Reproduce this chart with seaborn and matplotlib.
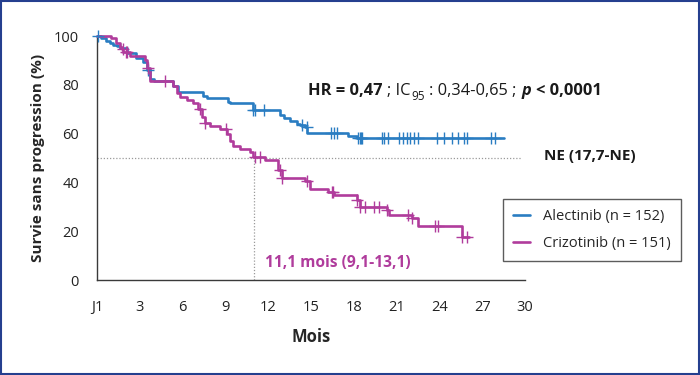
import numpy as np
import pandas as pd
import matplotlib
matplotlib.use("Agg")
import matplotlib.pyplot as plt
import seaborn as sns
from matplotlib.patches import Rectangle

# Kaplan-Meier steps: time of each drop (months) and survival after it (%)
alec_t = [0, 0.3, 0.6, 0.9, 1.1, 1.4, 1.6, 2.1, 2.7, 3.25, 3.5, 3.7, 4.0, 5.35, 5.7,
          7.4, 7.7, 9.15, 9.3, 10.9, 12.8, 13.1, 13.5, 14.0, 14.2, 14.6, 14.75, 17.6, 18.2, 28.5]
alec_s = [100, 99, 98, 97, 96.5, 96, 95, 93, 91, 89.5, 86, 82.5, 81.5, 79.5, 77.2,
          75.5, 74.5, 73, 72.4, 69.8, 67.6, 66.3, 65, 63.8, 63.5, 62.8, 60.2, 59, 58.3, 58.3]
alec_cens = [0.1, 3.6, 10.9, 11.1, 11.7, 14.4, 14.7, 16.4, 16.6, 16.8, 18.3, 18.4, 18.5, 18.6,
             20.0, 20.1, 20.4, 21.2, 21.45, 21.7, 21.95, 22.2, 22.5, 23.8, 24.3, 24.85, 25.3,
             25.7, 25.9, 27.65, 27.9]

criz_t = [0, 1.0, 1.3, 1.6, 1.75, 1.85, 2.3, 3.35, 3.5, 3.7, 5.35, 5.6, 5.8, 6.3, 6.75, 7.1,
          7.33, 7.57, 7.9, 8.6, 9.1, 9.3, 9.5, 10.0, 10.7, 10.96, 11.8, 12.7, 12.94, 14.6, 14.9,
          16.2, 16.6, 18.2, 18.4, 20.3, 20.5, 22.05, 22.5, 25.55, 26.1]
criz_s = [100, 99, 97, 95.5, 94.5, 93.5, 92, 90, 87, 81.5, 79.5, 76.5, 75, 73.8, 72.4, 70,
          67, 64.5, 63, 62, 60, 57, 55, 53.6, 52.6, 50.5, 49, 45, 42, 40.5, 37.5,
          36.2, 34.8, 32.8, 30, 28.8, 26.6, 25.3, 22, 17.5, 17.5]
criz_cens = [1.8, 2.0, 2.1, 3.6, 4.8, 7.2, 7.6, 9.05, 11.07, 11.4, 12.8, 13.0, 14.7, 16.45,
             16.55, 18.25, 18.45, 18.8, 19.4, 19.8, 20.35, 21.8, 22.1, 23.7, 23.9, 25.6, 25.9]

x_ticks = [0, 3, 6, 9, 12, 15, 18, 21, 24, 27, 30]
x_labels = ["J1", "3", "6", "9", "12", "15", "18", "21", "24", "27", "30"]
y_ticks = [0, 20, 40, 60, 80, 100]

BLUE = "#2a7dc2"
MAGENTA = "#b03c9c"
AXIS = "#3a3a3a"

sns.set_style("white")
plt.rcParams["font.family"] = ["Open Sans", "DejaVu Sans"]

fig = plt.figure(figsize=(7, 3.75), dpi=100)
ax = fig.add_axes([97 / 700, 95 / 375, 428 / 700, 244 / 375])


def step_at(t, s, x):
    idx = np.searchsorted(t, x, side="right") - 1
    return np.asarray(s)[idx]


groups = [(alec_t, alec_s, alec_cens, BLUE, "Alectinib (n = 152)"),
          (criz_t, criz_s, criz_cens, MAGENTA, "Crizotinib (n = 151)")]
for t, s, cens, col, lab in groups:
    df = pd.DataFrame({"mois": t, "survie": s})
    sns.lineplot(data=df, x="mois", y="survie", drawstyle="steps-post", color=col,
                 lw=1.9, label=lab, ax=ax, clip_on=False, zorder=3)
    cdf = pd.DataFrame({"mois": cens, "survie": step_at(t, s, cens)})
    sns.scatterplot(data=cdf, x="mois", y="survie", marker="+", s=65, color=col,
                    linewidth=1.0, ax=ax, legend=False, clip_on=False, zorder=4)

# median lines
ax.plot([0, 29.8], [50, 50], color="#9a9a9a", lw=0.9, ls=(0, (1, 1.5)), zorder=1)
ax.plot([11.0, 11.0], [0, 50], color="#9a9a9a", lw=0.9, ls=(0, (1, 1.5)), zorder=1)

ax.set_xlim(0, 30)
ax.set_ylim(0, 100)
ax.set_xticks(x_ticks)
ax.set_xticklabels(x_labels)
ax.set_yticks(y_ticks)
ax.tick_params(axis="both", direction="out", colors=AXIS, labelcolor="#222222",
               labelsize=10.5, width=1.0)
ax.tick_params(axis="y", length=9.5, pad=3.5)
ax.tick_params(axis="x", length=8.5, pad=6)
for side in ["top", "right"]:
    ax.spines[side].set_visible(False)
for side in ["left", "bottom"]:
    ax.spines[side].set_color(AXIS)
    ax.spines[side].set_linewidth(1.0)

ax.set_xlabel("Mois", fontsize=12, fontweight="bold", labelpad=9)
ax.set_ylabel("Survie sans progression (%)", fontsize=11, fontweight="bold", labelpad=6)

# HR line, built piece by piece
fs = 11.8
t1 = ax.text(14.8, 74.2, "HR = 0,47", fontsize=fs, fontweight="bold", va="bottom", color="#1a1a1a")
t2 = ax.annotate("; IC", xy=(1, 0), xycoords=t1, xytext=(3.4, 0), textcoords="offset points",
                 fontsize=fs, va="bottom", color="#1a1a1a")
t3 = ax.annotate("95", xy=(1, 0), xycoords=t2, xytext=(0.3, -2.7), textcoords="offset points",
                 fontsize=8.5, va="bottom", color="#1a1a1a")
t4 = ax.annotate(": 0,34-0,65 ;", xy=(1, 0), xycoords=(t3, t2), xytext=(3.4, 0),
                 textcoords="offset points", fontsize=fs, va="bottom", color="#1a1a1a")
t5 = ax.annotate("p", xy=(1, 0), xycoords=t4, xytext=(3.4, 0), textcoords="offset points",
                 fontsize=fs, fontweight="bold", fontstyle="italic", va="bottom", color="#1a1a1a")
t6 = ax.annotate("< 0,0001", xy=(1, 0), xycoords=t5, xytext=(3.4, 0), textcoords="offset points",
                 fontsize=fs, fontweight="bold", va="bottom", color="#1a1a1a")

ax.text(31.3, 50.8, "NE (17,7-NE)", fontsize=11, fontweight="bold", va="center",
        color="#1a1a1a", clip_on=False)
ax.text(11.8, 7.0, "11,1 mois (9,1-13,1)", fontsize=11.2, fontweight="bold", va="center",
        color=MAGENTA)

leg = ax.legend(loc="upper left", bbox_to_anchor=(0.949, 0.33), borderaxespad=0,
                frameon=True, fancybox=False, fontsize=10.5, handlelength=1.2,
                handletextpad=0.9, labelspacing=0.85, borderpad=0.65)
leg.get_frame().set_edgecolor("#333333")
leg.get_frame().set_linewidth(1.0)
for h in leg.get_lines():
    h.set_linewidth(1.9)

fig.patches.append(Rectangle((0.001, 0.002), 0.997, 0.995, transform=fig.transFigure,
                             fill=False, edgecolor="#253f8f", lw=1.5))

fig.savefig("out.png", dpi=100)
